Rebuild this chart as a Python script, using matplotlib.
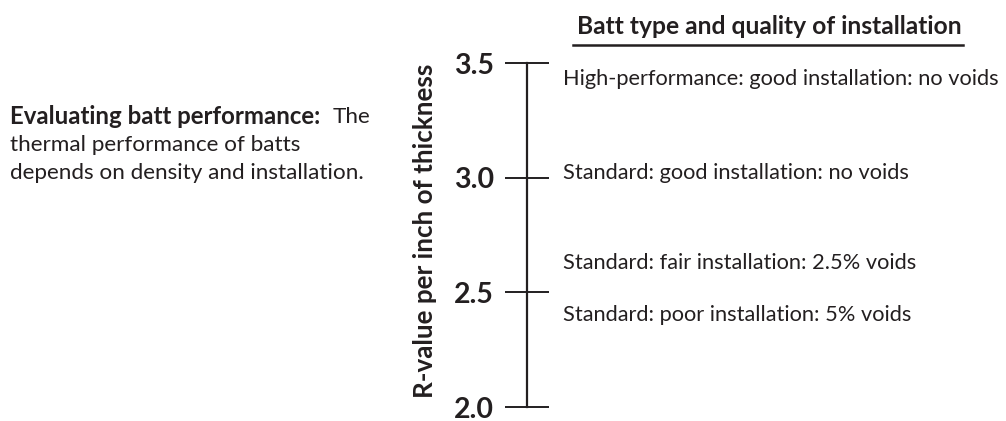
import matplotlib.pyplot as plt

plt.rcParams['font.family'] = ['Lato', 'DejaVu Sans']

# Data
ticks = [2.0, 2.5, 3.0, 3.5]
tick_labels = ["2.0", "2.5", "3.0", "3.5"]
batt_labels = [
    "High-performance: good installation: no voids",
    "Standard: good installation: no voids",
    "Standard: fair installation: 2.5% voids",
    "Standard: poor installation: 5% voids",
]
batt_values = [3.43, 3.02, 2.63, 2.40]

ink = "#231f20"

fig = plt.figure(figsize=(10.06, 4.21), dpi=100)
W, H = 1006, 421

# axis: vertical line at x=527px, from y=407px (2.0) to y=63px (3.5)
ax = fig.add_axes([527 / W, (H - 407) / H, (W - 527) / W, 344 / H])
ax.set_xlim(0, 1)
ax.set_ylim(2.0, 3.5)
for s in ["top", "right", "bottom"]:
    ax.spines[s].set_visible(False)
ax.spines["left"].set_color(ink)
ax.spines["left"].set_linewidth(1.6)
ax.set_xticks([])
ax.set_yticks(ticks)
ax.set_yticklabels(tick_labels, fontsize=20.5, fontweight="bold", color=ink)
ax.tick_params(axis="y", direction="inout", length=31.7, width=1.4,
               color=ink, pad=8)
ax.patch.set_alpha(0)

for lab, v in zip(batt_labels, batt_values):
    ax.text(0.075, v, lab, fontsize=15.7, color=ink, ha="left", va="center")

# y label
fig.text(425 / W, 1 - 230.5 / H, "R-value per inch of thickness", rotation=90,
         ha="center", va="center", fontsize=18.7, fontweight="bold", color=ink)

# header with underline
fig.text(769.5 / W, 1 - 27 / H, "Batt type and quality of installation",
         ha="center", va="center", fontsize=17.7, fontweight="bold", color=ink)
fig.add_artist(plt.Line2D([573 / W, 963 / W], [1 - 45 / H, 1 - 45 / H],
                          color=ink, linewidth=1.8))

# left note
fs = 16.2
t1 = fig.text(10 / W, 1 - 117 / H, "Evaluating batt performance:", ha="left",
              va="center", fontsize=17.3, fontweight="bold", color=ink)
fig.canvas.draw()
bb = t1.get_window_extent()
fig.text((bb.x1 + 12) / W, 1 - 117 / H, "The", ha="left", va="center",
         fontsize=fs, color=ink)
fig.text(10 / W, 1 - 145 / H, "thermal performance of batts", ha="left",
         va="center", fontsize=fs, color=ink)
fig.text(10 / W, 1 - 173 / H, "depends on density and installation.", ha="left",
         va="center", fontsize=fs, color=ink)

fig.savefig("out.png", dpi=100)
